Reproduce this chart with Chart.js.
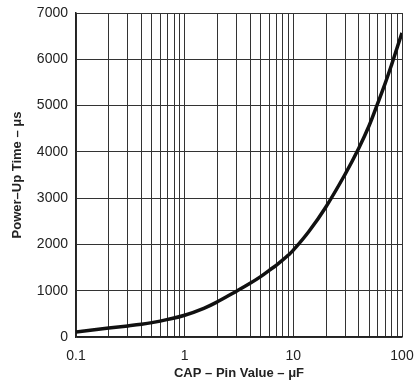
<!DOCTYPE html>
<html>
<head>
<meta charset="utf-8">
<script src="https://cdn.jsdelivr.net/npm/chart.js@4.4.0/dist/chart.umd.min.js"></script>
<style>
  html, body { margin: 0; padding: 0; background: #fff; }
  #wrap { width: 417px; height: 383px; }
</style>
</head>
<body>
<div id="wrap"><canvas id="chart" width="417" height="383"></canvas></div>
<script>
// CAP pin value (uF) vs power-up time (us)
const capValues = [0.1, 0.2, 0.3, 0.4, 0.5, 0.7, 1, 1.5, 2, 3, 4, 5, 6, 7, 8, 9, 10, 14, 20, 30, 40, 50, 60, 70, 80, 90, 100];
const powerUpTimes = [110, 195, 240, 275, 310, 380, 470, 620, 760, 990, 1160, 1305, 1440, 1555, 1665, 1770, 1875, 2290, 2815, 3520, 4080, 4575, 5060, 5480, 5875, 6245, 6570];

// grid lines at 1..9 x each decade, labels only at the decades
const xGridTicks = [0.1, 0.2, 0.3, 0.4, 0.5, 0.6, 0.7, 0.8, 0.9,
  1, 2, 3, 4, 5, 6, 7, 8, 9,
  10, 20, 30, 40, 50, 60, 70, 80, 90, 100];
const xLabels = [0.1, 1, 10, 100];

const xTitle = 'CAP \u2013 Pin Value \u2013 \u03BCF';
const yTitle = 'Power\u2013Up Time \u2013 \u03BCs';

const points = capValues.map((c, i) => ({ x: c, y: powerUpTimes[i] }));

const ctx = document.getElementById('chart').getContext('2d');
new Chart(ctx, {
  type: 'line',
  data: {
    datasets: [{
      data: points,
      borderColor: '#111',
      borderWidth: 3.5,
      pointRadius: 0,
      tension: 0.4,
      fill: false
    }]
  },
  options: {
    responsive: false,
    animation: false,
    layout: { padding: { left: 0, right: 15, top: 13, bottom: 0 } },
    plugins: { legend: { display: false }, tooltip: { enabled: false } },
    scales: {
      x: {
        type: 'logarithmic',
        min: 0.1,
        max: 100,
        afterBuildTicks: (scale) => {
          scale.ticks = xGridTicks.map(v => ({ value: v }));
        },
        afterFit: (scale) => {
          scale.height = 46;
          scale.paddingLeft = 0;
          scale.paddingRight = 0;
        },
        ticks: {
          autoSkip: false,
          maxRotation: 0,
          padding: 11,
          color: '#222',
          font: { family: 'Liberation Sans, Arial, sans-serif', size: 14 },
          callback: (v) => xLabels.includes(Number(v)) ? String(v) : ''
        },
        grid: { color: '#333', lineWidth: 1, drawTicks: false },
        border: { color: '#222', width: 1.5 },
        title: {
          display: true,
          text: xTitle,
          color: '#222',
          padding: { top: 0, bottom: 2 },
          font: { family: 'Liberation Sans, Arial, sans-serif', size: 13, weight: 'bold' }
        }
      },
      y: {
        min: 0,
        max: 7000,
        afterFit: (scale) => {
          scale.width = 76;
          scale.paddingTop = 0;
          scale.paddingBottom = 0;
        },
        ticks: {
          stepSize: 1000,
          padding: 8,
          color: '#222',
          font: { family: 'Liberation Sans, Arial, sans-serif', size: 14 },
          callback: (v) => String(v)
        },
        grid: { color: '#333', lineWidth: 1, drawTicks: false },
        border: { color: '#222', width: 1.5 },
        title: {
          display: true,
          text: yTitle,
          color: '#222',
          padding: { top: 10, bottom: 0 },
          font: { family: 'Liberation Sans, Arial, sans-serif', size: 13, weight: 'bold' }
        }
      }
    }
  }
});
</script>
</body>
</html>
